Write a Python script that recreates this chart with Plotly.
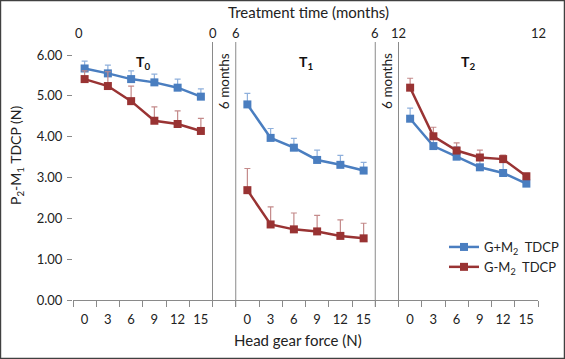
import plotly.graph_objects as go

# ---- data ----
force_labels = ["0", "3", "6", "9", "12", "15"]
panels = ["T0", "T1", "T2"]
panel_offsets = [0, 7, 14]   # category index where each panel starts (1 blank category between panels)

blue_T0 = [5.67, 5.55, 5.41, 5.33, 5.20, 4.98]
blue_T1 = [4.79, 3.97, 3.73, 3.43, 3.31, 3.17]
blue_T2 = [4.44, 3.77, 3.51, 3.25, 3.11, 2.85]
blue_err_T0 = [0.18, 0.20, 0.20, 0.20, 0.21, 0.19]
blue_err_T1 = [0.27, 0.23, 0.23, 0.24, 0.23, 0.20]
blue_err_T2 = [0.26, 0.27, 0.24, 0.19, 0.27, 0.10]

red_T0 = [5.41, 5.24, 4.87, 4.39, 4.31, 4.14]
red_T1 = [2.69, 1.85, 1.73, 1.68, 1.57, 1.51]
red_T2 = [5.20, 4.01, 3.66, 3.49, 3.45, 3.03]
red_err_T0 = [0.20, 0.35, 0.37, 0.34, 0.32, 0.31]
red_err_T1 = [0.53, 0.43, 0.40, 0.39, 0.39, 0.37]
red_err_T2 = [0.23, 0.22, 0.19, 0.18, 0.10, 0.07]

top_tick_pos = [0, 6, 7, 13, 14, 20]
top_tick_text = ["0", "0", "6", "6", "12", "12"]
y_ticks = [0, 1, 2, 3, 4, 5, 6]

N_CAT = 20

def join(parts):
    out = []
    for i, p in enumerate(parts):
        if i > 0:
            out.append(None)
        out.extend(p)
    return out

xs_parts = [[off + i + 0.5 for i in range(len(force_labels))] for off in panel_offsets]
x_all = join(xs_parts)

FONT = "Lato, 'Liberation Sans', sans-serif"
BLUE = "#4A7EC0"
RED = "#993333"

fig = go.Figure()
fig.add_trace(go.Scatter(
    x=x_all, y=join([blue_T0, blue_T1, blue_T2]),
    mode="lines+markers", name="G+M<sub>2</sub>\u00a0\u00a0TDCP",
    line=dict(color=BLUE, width=2.5),
    marker=dict(symbol="square", size=8, color=BLUE),
    error_y=dict(type="data", symmetric=False,
                 array=join([blue_err_T0, blue_err_T1, blue_err_T2]),
                 arrayminus=[0] * len(x_all),
                 color="#8FB0DC", thickness=1.2, width=3),
    connectgaps=False,
))
fig.add_trace(go.Scatter(
    x=x_all, y=join([red_T0, red_T1, red_T2]),
    mode="lines+markers", name="G-M<sub>2</sub>\u00a0\u00a0TDCP",
    line=dict(color=RED, width=2.5),
    marker=dict(symbol="square", size=8, color=RED),
    error_y=dict(type="data", symmetric=False,
                 array=join([red_err_T0, red_err_T1, red_err_T2]),
                 arrayminus=[0] * len(x_all),
                 color="#C48A8A", thickness=1.2, width=3),
    connectgaps=False,
))

center_vals = [v for part in xs_parts for v in part]
center_text = force_labels * 3

shapes = []
for xb in [6, 7, 13, 14]:
    shapes.append(dict(type="line", xref="x", yref="paper", x0=xb, x1=xb,
                       y0=-0.027, y1=1.0, line=dict(color="#8a8a8a", width=1)))
# outer border
shapes.append(dict(type="rect", xref="paper", yref="paper",
                   x0=-0.156, x1=1.057, y0=-0.2267, y1=1.161,
                   line=dict(color="#404040", width=1.5)))

def py(pix):
    return (300 - pix) / 258

def px(pix):
    return (pix - 73) / 465

annotations = []
# top time axis arrow
annotations.append(dict(x=20.25, y=1.0, xref="x", yref="paper", text="",
                        showarrow=True, ax=-470, ay=0, arrowhead=2,
                        arrowsize=1, arrowwidth=1, arrowcolor="#333"))
for pos, txt in zip(top_tick_pos, top_tick_text):
    annotations.append(dict(x=pos + (0.25 if pos == 0 else 0), y=py(33), xref="x", yref="paper",
                            xanchor="center", yanchor="middle",
                            text=txt, showarrow=False,
                            font=dict(family=FONT, size=13, color="#222")))
annotations.append(dict(x=px(308), y=py(12), xref="paper", yref="paper",
                        xanchor="center", yanchor="middle",
                        text="Treatment time (months)", showarrow=False,
                        font=dict(family=FONT, size=15, color="#222")))
annotations.append(dict(x=px(298), y=py(340), xref="paper", yref="paper",
                        xanchor="center", yanchor="middle",
                        text="Head gear force (N)", showarrow=False,
                        font=dict(family=FONT, size=15, color="#222")))
annotations.append(dict(x=px(16), y=py(156), xref="paper", yref="paper",
                        xanchor="center", yanchor="middle",
                        text="P<sub>2</sub>-M<sub>1</sub> TDCP (N)", showarrow=False, textangle=-90,
                        font=dict(family=FONT, size=14, color="#222")))
for off, p in zip(panel_offsets, panels):
    annotations.append(dict(x=off + 3, y=py(62), xref="x", yref="paper",
                            xanchor="center", yanchor="middle",
                            text="<b>T<sub>%s</sub></b>" % p[1], showarrow=False,
                            font=dict(family=FONT, size=14, color="#111")))
for gx in [6.5, 13.5]:
    annotations.append(dict(x=gx, y=py(81), xref="x", yref="paper",
                            xanchor="center", yanchor="middle",
                            text="6 months", showarrow=False, textangle=-90,
                            font=dict(family=FONT, size=13.5, color="#222")))

fig.update_layout(
    width=565, height=359,
    margin=dict(l=73, r=27, t=42, b=59, autoexpand=False),
    paper_bgcolor="white", plot_bgcolor="white",
    font=dict(family=FONT, size=13, color="#222"),
    showlegend=True,
    legend=dict(x=px(564), y=py(232), xanchor="right", yanchor="top",
                bgcolor="rgba(0,0,0,0)", font=dict(family=FONT, size=13, color="#222"),
                tracegroupgap=4, itemwidth=30),
    xaxis=dict(range=[0, N_CAT], tickmode="array", tickvals=center_vals, ticktext=center_text,
               ticks="", showgrid=False, zeroline=False, showline=True, linecolor="#8a8a8a",
               linewidth=1, automargin=False, ticklabelstandoff=7,
               tickfont=dict(family=FONT, size=13, color="#222"),
               minor=dict(tickmode="array", tickvals=list(range(N_CAT + 1)), ticks="outside",
                          ticklen=6, tickcolor="#8a8a8a", showgrid=False)),
    yaxis=dict(range=[0, 6], domain=[0, 0.9496], tickmode="array", tickvals=y_ticks,
               tickformat=".2f", ticks="outside", ticklen=5, tickcolor="#8a8a8a",
               showgrid=False, zeroline=False, showline=False, automargin=False,
               ticklabelstandoff=2,
               tickfont=dict(family=FONT, size=13, color="#222")),
    shapes=shapes, annotations=annotations,
)

fig.write_html("out.html", config={"displayModeBar": False},
               post_script="document.body.style.margin='0';document.body.style.overflow='hidden';")
